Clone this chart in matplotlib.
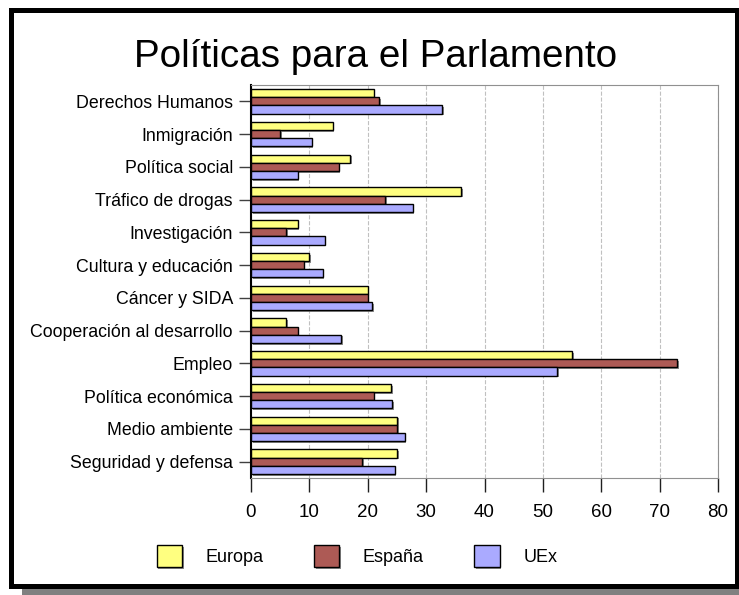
import numpy as np
import matplotlib
matplotlib.use("Agg")
import matplotlib.pyplot as plt
import matplotlib.patheffects as pe
from matplotlib.patches import Rectangle

plt.rcParams['font.family'] = ['Liberation Sans', 'DejaVu Sans']

# data, top to bottom
categorias = ['Derechos Humanos', 'Inmigración', 'Política social', 'Tráfico de drogas',
              'Investigación', 'Cultura y educación', 'Cáncer y SIDA',
              'Cooperación al desarrollo', 'Empleo', 'Política económica',
              'Medio ambiente', 'Seguridad y defensa']
europa = [21, 14, 17, 36, 8, 10, 20, 6, 55, 24, 25, 25]
espana = [22, 5, 15, 23, 6, 9, 20, 8, 73, 21, 25, 19]
uex = [32.8, 10.4, 8, 27.7, 12.6, 12.3, 20.7, 15.5, 52.4, 24.2, 26.3, 24.6]
series = ['Europa', 'España', 'UEx']
colores = ['#FFFF80', '#AD5A55', '#AAAAFF']
xticks = [0, 10, 20, 30, 40, 50, 60, 70, 80]

fig = plt.figure(figsize=(7.39, 5.95), dpi=100)
ax = fig.add_axes([251/739, 1-478/595, (718-251)/739, (478-85)/595])

y = np.arange(len(categorias))
h = 0.25
sombra = [pe.SimplePatchShadow(offset=(1.2, -1.2), shadow_rgbFace='#707070', alpha=0.8), pe.Normal()]
for k, (vals, nombre, c) in enumerate(zip([europa, espana, uex], series, colores)):
    ax.barh(y + (k-1)*h, vals, height=h, color=c, edgecolor='black', linewidth=1.0,
            label=nombre, path_effects=sombra, zorder=3)

ax.set_xlim(0, 80)
ax.set_ylim(len(categorias)-0.5, -0.5)
ax.set_xticks(xticks)
ax.set_yticks(y)
ax.set_yticklabels(categorias)
ax.tick_params(axis='y', length=9, width=1, color='#404040', labelsize=12.8, pad=4)
ax.tick_params(axis='x', length=10, width=1, color='#202020', labelsize=13.5, pad=9)
ax.grid(axis='x', color='#c0c0c0', linestyle='--', linewidth=0.8, zorder=0)
for s in ['top', 'right', 'bottom']:
    ax.spines[s].set_color('#909090')
ax.spines['left'].set_linewidth(1.5)

fig.text(376/739, 1-57/595, 'Políticas para el Parlamento', ha='center', va='center', fontsize=27.8)

fig.legend(loc='center', bbox_to_anchor=(357/739, 1-556/595), ncol=3, frameon=False,
           fontsize=13, handlelength=1.4, handleheight=1.5, handletextpad=1.3,
           columnspacing=2.8)

# marco negro con sombra gris
fig.add_artist(Rectangle((22/739, 0), 1, 7/595, transform=fig.transFigure,
                         facecolor='#808080', edgecolor='none'))
fig.add_artist(Rectangle((10.5/739, 1-585.5/595), (737-10.5)/739, (585.5-9.5)/595,
                         transform=fig.transFigure, facecolor='none', edgecolor='black',
                         linewidth=3.6))

fig.savefig('out.png', dpi=100)
